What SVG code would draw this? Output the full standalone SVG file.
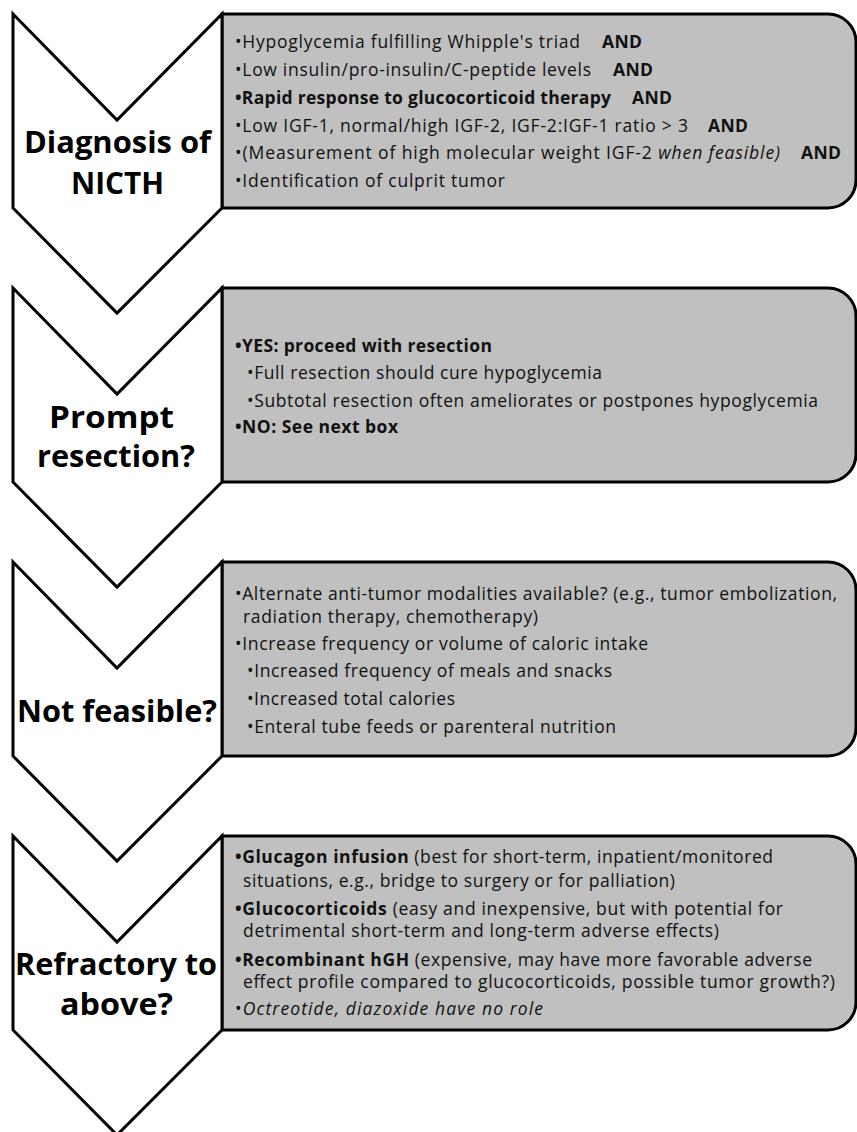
<svg xmlns="http://www.w3.org/2000/svg" width="857" height="1132" viewBox="0 0 857 1132">
<style>
.chev{fill:#fff;stroke:#000;stroke-width:3;stroke-linejoin:miter}
.box{fill:#c0c0c0;stroke:#000;stroke-width:3}
.t{font-family:"Open Sans","Liberation Sans",sans-serif;font-size:17.5px;fill:#111}
.b{font-weight:bold}
.i{font-style:italic}
.h{font-family:"Open Sans","Liberation Sans",sans-serif;font-size:31px;font-weight:bold;fill:#000}
</style>
<rect width="857" height="1132" fill="#fff"/>
<g id="connectors"></g>

<g id="step1">
<path class="box" d="M222,14 H828 A28,28 0 0 1 856,42 V180 A28,28 0 0 1 828,208 H222 Z"/>
<path class="chev" d="M13,14 L117,120 L222,14 L222,208 L117,313 L13,208 Z"/>
<text class="h" x="24" y="153" textLength="187" lengthAdjust="spacingAndGlyphs">Diagnosis of</text>
<text class="h" x="71" y="194" textLength="93" lengthAdjust="spacingAndGlyphs">NICTH</text>
<text class="t" x="235" y="48" textLength="345">•Hypoglycemia fulfilling Whipple's triad</text>
<text class="t b" x="602" y="48" textLength="40">AND</text>
<text class="t" x="235" y="76" textLength="356">•Low insulin/pro-insulin/C-peptide levels</text>
<text class="t b" x="613" y="76" textLength="40">AND</text>
<text class="t b" x="235" y="104" textLength="376">•Rapid response to glucocorticoid therapy</text>
<text class="t b" x="632" y="104" textLength="40">AND</text>
<text class="t" x="235" y="132" textLength="453">•Low IGF-1, normal/high IGF-2, IGF-2:IGF-1 ratio &gt; 3</text>
<text class="t b" x="708" y="132" textLength="40">AND</text>
<text class="t" x="235" y="159" textLength="545">•(Measurement of high molecular weight IGF-2 <tspan class="i">when feasible)</tspan></text>
<text class="t b" x="801" y="159" textLength="40">AND</text>
<text class="t" x="235" y="187" textLength="270">•Identification of culprit tumor</text>
</g>

<g id="step2">
<path class="box" d="M222,288 H828 A28,28 0 0 1 856,316 V454 A28,28 0 0 1 828,482 H222 Z"/>
<path class="chev" d="M13,288 L117,394 L222,288 L222,482 L117,587 L13,482 Z"/>
<text class="h" x="49" y="428" textLength="125" lengthAdjust="spacingAndGlyphs">Prompt</text>
<text class="h" x="37" y="467" textLength="158" lengthAdjust="spacingAndGlyphs">resection?</text>
<text class="t b" x="235" y="352" textLength="257">•YES: proceed with resection</text>
<text class="t" x="247" y="379" textLength="355">•Full resection should cure hypoglycemia</text>
<text class="t" x="247" y="407" textLength="571">•Subtotal resection often ameliorates or postpones hypoglycemia</text>
<text class="t b" x="235" y="433" textLength="163">•NO: See next box</text>
</g>

<g id="step3">
<path class="box" d="M222,562 H828 A28,28 0 0 1 856,590 V728 A28,28 0 0 1 828,756 H222 Z"/>
<path class="chev" d="M13,562 L117,668 L222,562 L222,756 L117,861 L13,756 Z"/>
<text class="h" x="17" y="722" textLength="200" lengthAdjust="spacingAndGlyphs">Not feasible?</text>
<text class="t" x="235" y="600" textLength="602">•Alternate anti-tumor modalities available? (e.g., tumor embolization,</text>
<text class="t" x="243" y="623" textLength="295">radiation therapy, chemotherapy)</text>
<text class="t" x="235" y="650" textLength="413">•Increase frequency or volume of caloric intake</text>
<text class="t" x="247" y="677" textLength="365">•Increased frequency of meals and snacks</text>
<text class="t" x="247" y="705" textLength="208">•Increased total calories</text>
<text class="t" x="247" y="733" textLength="369">•Enteral tube feeds or parenteral nutrition</text>
</g>

<g id="step4">
<path class="box" d="M222,836 H828 A28,28 0 0 1 856,864 V1002 A28,28 0 0 1 828,1030 H222 Z"/>
<path class="chev" d="M13,836 L117,942 L222,836 L222,1030 L117,1135 L13,1030 Z"/>
<text class="h" x="15" y="975" textLength="202" lengthAdjust="spacingAndGlyphs">Refractory to</text>
<text class="h" x="60" y="1015" textLength="113" lengthAdjust="spacingAndGlyphs">above?</text>
<text class="t" x="235" y="863" textLength="538"><tspan class="b">•Glucagon infusion</tspan> (best for short-term, inpatient/monitored</text>
<text class="t" x="243" y="887" textLength="432">situations, e.g., bridge to surgery or for palliation)</text>
<text class="t" x="235" y="915" textLength="548"><tspan class="b">•Glucocorticoids</tspan>  (easy and inexpensive, but with potential for</text>
<text class="t" x="243" y="937" textLength="476">detrimental short-term and long-term adverse effects)</text>
<text class="t" x="235" y="966" textLength="577"><tspan class="b">•Recombinant hGH</tspan> (expensive, may have more favorable adverse</text>
<text class="t" x="243" y="988" textLength="592">effect profile compared to glucocorticoids, possible tumor growth?)</text>
<text class="t" x="235" y="1015" textLength="308">•<tspan class="i">Octreotide, diazoxide have no role</tspan></text>
</g>
</svg>
